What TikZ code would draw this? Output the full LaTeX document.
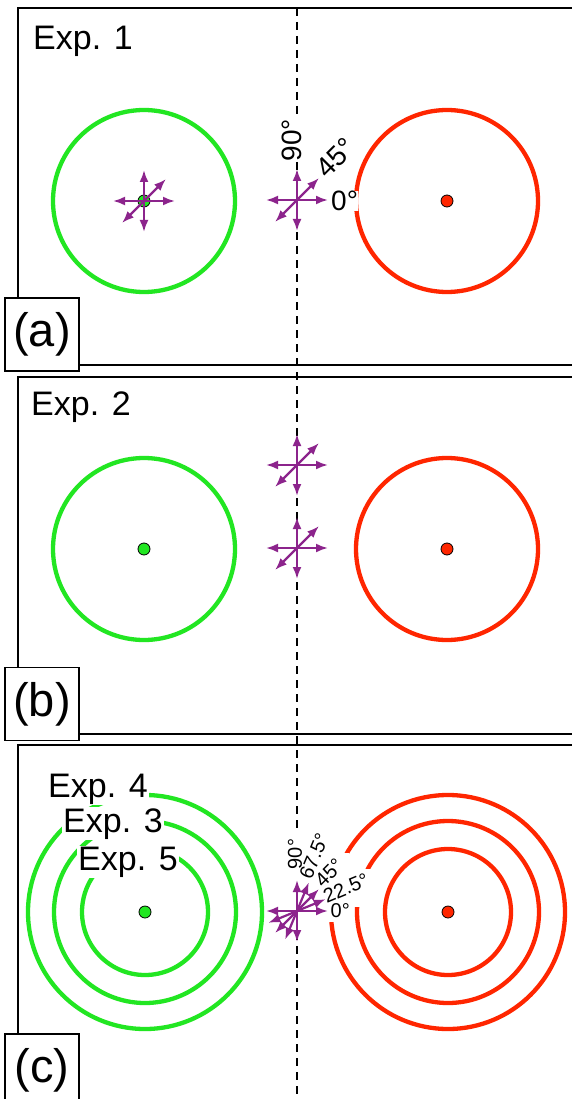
\documentclass[tikz,border=0pt]{standalone}
\usepackage{fontspec}
\setmainfont{Liberation Sans}
\usetikzlibrary{arrows.meta,fit}
\definecolor{ringgreen}{RGB}{34,230,34}
\definecolor{ringred}{RGB}{255,38,0}
\definecolor{arrpurple}{RGB}{140,36,140}
\pgfdeclarelayer{fg}
\pgfsetlayers{main,fg}
\tikzset{
  frame/.style={draw=black, line width=1.4pt},
  tag/.style={draw=black, fill=white, line width=1.4pt, minimum width=74pt, minimum height=73pt, inner sep=0pt, font=\fontsize{47}{52}\selectfont},
  greenring/.style={draw=ringgreen, line width=4.3pt},
  redring/.style={draw=ringred, line width=4.3pt},
  gdot/.style={fill=ringgreen, draw=black, line width=0.8pt},
  rdot/.style={fill=ringred, draw=black, line width=0.8pt},
  arr/.style={draw=arrpurple, line width=2.2pt, -{Latex[length=12pt,width=9pt]}},
  axisline/.style={draw=black, line width=1.5pt, dash pattern=on 8pt off 6pt},
  explabel/.style={anchor=base west, inner sep=1pt, fill=white, font=\fontsize{34}{38}\selectfont},
  biglab/.style={fill=white, inner sep=0pt, font=\fontsize{28}{32}\selectfont},
  smalllab/.style={inner sep=0.5pt, font=\fontsize{20}{24}\selectfont},
  blank/.style={fill=white, inner sep=3pt, draw=none},
}
\begin{document}
\begin{tikzpicture}[x=1pt,y=-1pt]
\useasboundingbox (0,0) rectangle (572,1099);
\clip (0,0) rectangle (572,1099);
\fill[white] (0,0) rectangle (572,1099);

% panel frames
\draw[frame] (18,8) rectangle (590,365);
\draw[frame] (18,377) rectangle (590,734);
\draw[frame] (18,745) rectangle (590,1120);

% centres
\coordinate (ga) at (144,201);
\coordinate (ra) at (447,201);
\coordinate (ca) at (297,200);
\coordinate (gb) at (144,549);
\coordinate (rb) at (447,549);
\coordinate (cb1) at (297,465);
\coordinate (cb2) at (297,548);
\coordinate (gc) at (145,912);
\coordinate (rc) at (448,912);
\coordinate (cc) at (297,911);
\coordinate (dtop) at (297,8);
\coordinate (dbot) at (297,1099);

% dashed axis
\draw[axisline] (dtop) -- (dbot);

% panel (a)
\draw[greenring] (ga) circle[radius=91pt];
\draw[redring] (ra) circle[radius=91pt];
\filldraw[gdot] (ga) circle[radius=6pt];
\filldraw[rdot] (ra) circle[radius=6pt];
\node[biglab, anchor=west] (l0a) at (331,201) {0°};
\node[biglab, rotate=45] (l45a) at (336,158) {45°};
\node[biglab, rotate=90] (l90a) at (292,140) {90°};
\foreach \a in {0,45,90,180,225,270} {
  \draw[arr] (ga) -- ++(-\a:31);
  \draw[arr] (ca) -- ++(-\a:31);
}
\node[anchor=base west, inner sep=0pt, font=\fontsize{34}{38}\selectfont] (e1) at (33,50) {Exp. 1};

% panel (b)
\draw[greenring] (gb) circle[radius=91pt];
\draw[redring] (rb) circle[radius=91pt];
\filldraw[gdot] (gb) circle[radius=6pt];
\filldraw[rdot] (rb) circle[radius=6pt];
\foreach \a in {0,45,90,180,225,270} {
  \draw[arr] (cb1) -- ++(-\a:31);
  \draw[arr] (cb2) -- ++(-\a:31);
}
\node[anchor=base west, inner sep=0pt, font=\fontsize{34}{38}\selectfont] (e2) at (31,415) {Exp. 2};

% panel (c)
\foreach \r in {63,91,117} {
  \draw[greenring] (gc) circle[radius=\r pt];
  \draw[redring] (rc) circle[radius=\r pt];
}
\filldraw[gdot] (gc) circle[radius=6pt];
\filldraw[rdot] (rc) circle[radius=6pt];
\begin{pgfonlayer}{fg}
\node[smalllab, anchor=west] (l0c) at (330,911) {0°};
\node[smalllab, rotate=22.5] (l22c) at (346,888) {22.5°};
\node[smalllab, rotate=45] (l45c) at (329,873) {45°};
\node[smalllab, rotate=67.5] (l67c) at (314,856) {67.5°};
\node[smalllab, rotate=90] (l90c) at (295,854) {90°};
\end{pgfonlayer}
\foreach \n in {l0c,l22c,l45c,l67c,l90c} {
  \node[blank, fit=(\n.north west)(\n.north east)(\n.south west)(\n.south east)] {};
}
\foreach \a in {0,22.5,45,67.5,90,180,202.5,225,247.5,270} {
  \draw[arr] (cc) -- ++(-\a:31);
}

\node[explabel] (e5) at (77,870) {Exp. 5};
\node[explabel] (e3) at (62,832) {Exp. 3};
\node[explabel] (e4) at (47,797) {Exp. 4};

% panel tags
\node[tag] (ta) at (42,334.5) {(a)};
\node[tag] (tb) at (42,704) {(b)};
\node[tag] (tc) at (42,1070.5) {(c)};
\end{tikzpicture}
\end{document}
